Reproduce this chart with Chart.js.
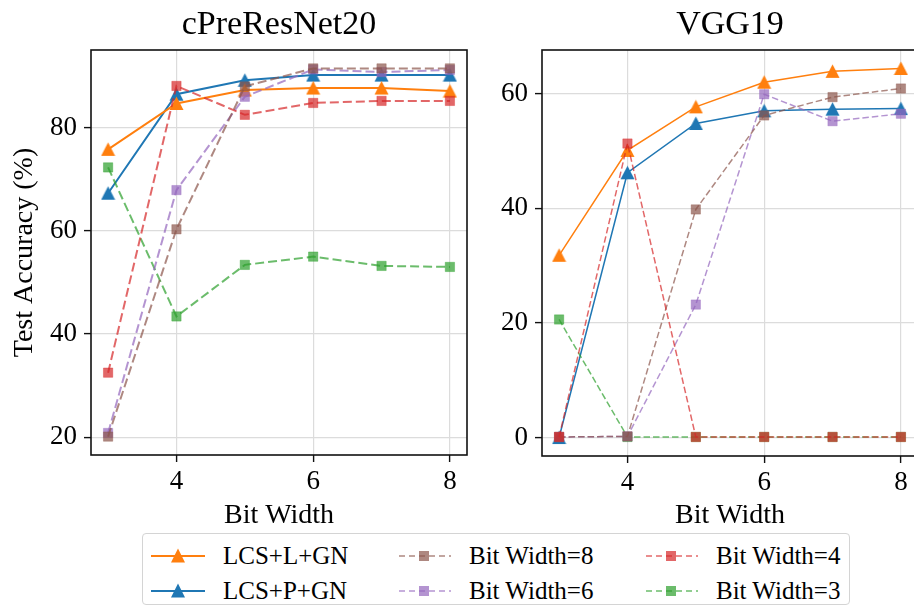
<!DOCTYPE html>
<html>
<head>
<meta charset="utf-8">
<script src="https://cdn.jsdelivr.net/npm/chart.js@4.4.1/dist/chart.umd.min.js"></script>
<style>
  html, body { margin: 0; padding: 0; background: #fff; width: 914px; height: 609px; overflow: hidden; }
  #left { position: absolute; left: 0; top: 0; }
  #right { position: absolute; left: 480px; top: 0; }
  #legend { position: absolute; left: 142px; top: 533px; width: 708px; height: 72px; border: 1px solid #d4d4d4; border-radius: 4px; background: #fff; box-sizing: border-box; }
  .item { position: absolute; display: flex; align-items: center; font-family: "Liberation Serif", "DejaVu Serif", serif; font-size: 25px; color: #000; height: 30px; }
  .item svg { margin-right: 18px; }
</style>
</head>
<body>
<canvas id="left" width="480" height="532"></canvas>
<canvas id="right" width="450" height="532"></canvas>
<div id="legend"></div>
<script>
// x values (bit width) and ticks
const bitWidths = [3, 4, 5, 6, 7, 8];
const xTicks = [4, 6, 8];

// cPreResNet20
const resL = [75.8, 84.7, 87.3, 87.7, 87.7, 87.1];
const resP = [67.3, 86.5, 89.2, 90.2, 90.2, 90.2];
const res8 = [20.1, 60.3, 88.0, 91.5, 91.5, 91.5];
const res6 = [20.8, 67.9, 86.0, 91.3, 90.8, 91.2];
const res4 = [32.5, 88.1, 82.5, 84.8, 85.2, 85.2];
const res3 = [72.3, 43.4, 53.4, 55.0, 53.2, 53.0];
const resTicks = [20, 40, 60, 80];

// VGG19
const vggL = [31.8, 50.1, 57.7, 62.0, 63.9, 64.4];
const vggP = [0.0, 46.2, 54.8, 57.0, 57.3, 57.4];
const vgg8 = [0.1, 0.2, 39.8, 56.2, 59.4, 60.9];
const vgg6 = [0.1, 0.2, 23.2, 59.9, 55.2, 56.5];
const vgg4 = [0.1, 51.3, 0.1, 0.1, 0.1, 0.1];
const vgg3 = [20.6, 0.1, 0.1, 0.1, 0.1, 0.1];
const vggTicks = [0, 20, 40, 60];

const seriesNames = ["LCS+L+GN", "LCS+P+GN", "Bit Width=8", "Bit Width=6", "Bit Width=4", "Bit Width=3"];
const seriesColors = ["#ff7f0e", "#1f77b4", "#8c564b", "#9467bd", "#d62728", "#2ca02c"];
// stacking: lower number is drawn on top
const drawOrder = [4, 5, 1, 2, 0, 3];

const FONT = '"Liberation Serif", "DejaVu Serif", serif';

function rgba(hex, a) {
  const n = parseInt(hex.slice(1), 16);
  return `rgba(${n >> 16},${(n >> 8) & 255},${n & 255},${a})`;
}

// matplotlib-like '^' marker (width == height, centred on its box)
function triangle(color) {
  const c = document.createElement("canvas");
  c.width = 15; c.height = 15;
  const g = c.getContext("2d");
  g.fillStyle = color;
  g.beginPath();
  g.moveTo(7.5, 0.5); g.lineTo(14.5, 14); g.lineTo(0.5, 14); g.closePath();
  g.fill();
  return c;
}

function datasets(lists, lw, dash) {
  return lists.map((vals, i) => {
    const solid = i < 2;
    const col = solid ? seriesColors[i] : rgba(seriesColors[i], 0.7);
    return {
      label: seriesNames[i],
      data: bitWidths.map((x, j) => ({ x: x, y: vals[j] })),
      borderColor: col,
      backgroundColor: col,
      borderWidth: lw,
      borderDash: solid ? [] : dash,
      pointStyle: solid ? triangle(seriesColors[i]) : "rect",
      pointRadius: solid ? 7.5 : 6.6,
      pointBorderWidth: solid ? 0 : 0.5,
      pointBackgroundColor: col,
      pointBorderColor: col,
      tension: 0,
      order: drawOrder[i]
    };
  });
}

const frame = {
  id: "frame",
  afterDatasetsDraw(chart) {
    const a = chart.chartArea, c = chart.ctx;
    c.save();
    c.strokeStyle = "#111";
    c.lineWidth = 1.6;
    c.strokeRect(a.left, a.top, a.right - a.left, a.bottom - a.top);
    c.restore();
  }
};

function makeChart(id, title, lists, yTicks, o) {
  const all = lists.flat();
  const lo = Math.min(...all), hi = Math.max(...all), m = (hi - lo) * 0.05;
  return new Chart(document.getElementById(id), {
    type: "line",
    data: { datasets: datasets(lists, o.lw, o.dash) },
    options: {
      responsive: false,
      animation: false,
      events: [],
      layout: { padding: { left: 0, right: o.padRight, top: 0, bottom: 0 } },
      plugins: {
        legend: { display: false },
        tooltip: { enabled: false },
        title: {
          display: true, text: title, color: "#000", fullSize: false,
          font: { family: FONT, size: 34, weight: "normal" },
          padding: { top: 4.6, bottom: 4.6 }
        }
      },
      scales: {
        x: {
          type: "linear", min: 2.75, max: 8.25,
          afterBuildTicks: s => { s.ticks = xTicks.map(v => ({ value: v })); },
          afterFit: s => { s.height = o.xH; },
          grid: { color: "#dcdcdc", lineWidth: 1.2, tickColor: "#111", tickLength: 7, tickWidth: 1.4 },
          border: { display: false },
          ticks: { color: "#000", font: { family: FONT, size: 27 }, padding: 4, autoSkip: false, maxRotation: 0 },
          title: { display: true, text: "Bit Width", color: "#000", font: { family: FONT, size: 28 }, padding: 0 }
        },
        y: {
          type: "linear", min: lo - m, max: hi + m,
          afterBuildTicks: s => { s.ticks = yTicks.map(v => ({ value: v })); },
          afterFit: s => { s.width = o.yW; },
          grid: { color: "#dcdcdc", lineWidth: 1.2, tickColor: "#111", tickLength: 7, tickWidth: 1.4 },
          border: { display: false },
          ticks: { color: "#000", font: { family: FONT, size: 27 }, padding: 7, autoSkip: false },
          title: { display: o.yTitle, text: "Test Accuracy (%)", color: "#000", font: { family: FONT, size: 28 }, padding: { top: 8, bottom: 0 } }
        }
      }
    },
    plugins: [frame]
  });
}

makeChart("left", "cPreResNet20", [resL, resP, res8, res6, res4, res3], resTicks,
  { lw: 2, dash: [9, 4], padRight: 13, xH: 77, yW: 91, yTitle: true });
makeChart("right", "VGG19", [vggL, vggP, vgg8, vgg6, vgg4, vgg3], vggTicks,
  { lw: 1.5, dash: [6.5, 3], padRight: 12, xH: 76, yW: 62, yTitle: false });

// legend, column-major like matplotlib (ncol=3)
const legend = document.getElementById("legend");
const colX = [8, 254, 501];
const rowY = [7, 42];
seriesNames.forEach((name, i) => {
  const col = Math.floor(i / 2), row = i % 2;
  const solid = i < 2;
  const c = seriesColors[i];
  const line = solid
    ? `<line x1="0" y1="10" x2="54" y2="10" stroke="${c}" stroke-width="2"/>`
    : `<line x1="2" y1="10" x2="54" y2="10" stroke="${c}" stroke-opacity="0.7" stroke-width="1.5" stroke-dasharray="6 4"/>`;
  const mark = solid
    ? `<polygon points="27,2.5 34,16.5 20,16.5" fill="${c}"/>`
    : `<rect x="22" y="5" width="10" height="10" fill="${c}" fill-opacity="0.7"/>`;
  const el = document.createElement("div");
  el.className = "item";
  el.style.left = colX[col] + "px";
  el.style.top = rowY[row] + "px";
  el.innerHTML = `<svg width="54" height="20">${line}${mark}</svg><span>${name}</span>`;
  legend.appendChild(el);
});
</script>
</body>
</html>
